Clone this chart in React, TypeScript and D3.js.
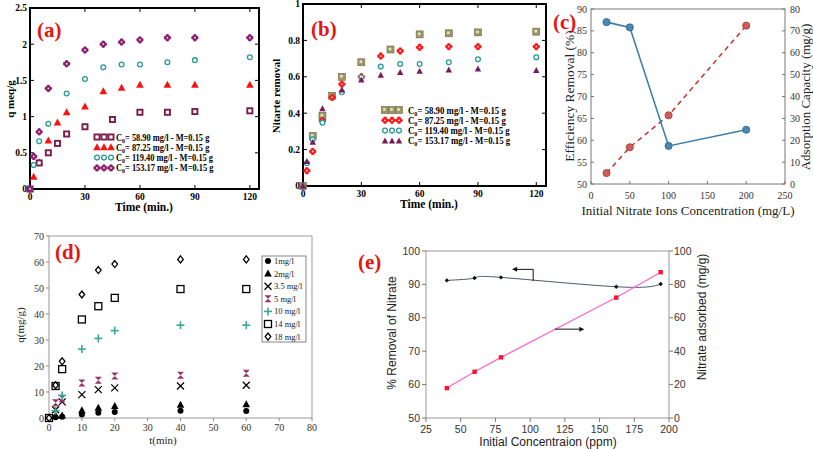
import React from 'react';
import * as d3 from 'd3';

const SERIF = '"Liberation Serif", "DejaVu Serif", serif';
const SANS = '"Liberation Sans", Arial, sans-serif';

// ---------- Panel (a): q (meq/g) vs time ----------
const aTimeS1 = [0, 5, 10, 15, 20, 30, 45, 60, 75, 90, 120];
const aTimeS2 = [0, 2, 5, 10, 15, 20, 30, 40, 50, 60, 75, 90, 120];
const aTimeS34 = [0, 2, 5, 10, 20, 30, 40, 50, 60, 75, 90, 120];
const aQ1 = [0, 0.36, 0.5, 0.63, 0.76, 0.86, 0.96, 1.06, 1.06, 1.07, 1.08];
const aQ2 = [0, 0.17, 0.37, 0.67, 0.92, 1.06, 1.14, 1.35, 1.4, 1.44, 1.44, 1.44, 1.44];
const aQ3 = [0, 0.33, 0.66, 0.9, 1.32, 1.52, 1.68, 1.72, 1.72, 1.75, 1.78, 1.82];
const aQ4 = [0, 0.45, 0.79, 1.39, 1.73, 1.92, 2.0, 2.03, 2.06, 2.09, 2.09, 2.09];
const abLegend = ['58.90', '87.25', '119.40', '153.17'];
const aYTicks = [0, 0.5, 1, 1.5, 2, 2.5];
const abXTicks = [0, 30, 60, 90, 120];

// ---------- Panel (b): nitrate removal vs time ----------
const bR1 = [0, 0.275, 0.386, 0.496, 0.6, 0.68, 0.75, 0.833, 0.839, 0.844, 0.848];
const bR2 = [0, 0.084, 0.19, 0.36, 0.487, 0.56, 0.6, 0.714, 0.742, 0.762, 0.766, 0.766, 0.766];
const bR3 = [0, 0.125, 0.256, 0.348, 0.515, 0.597, 0.656, 0.67, 0.67, 0.68, 0.696, 0.707];
const bR4 = [0, 0.135, 0.24, 0.425, 0.527, 0.582, 0.608, 0.623, 0.63, 0.637, 0.643, 0.634];
const bYTicks = [0, 0.2, 0.4, 0.6, 0.8, 1];

// ---------- Panel (c) ----------
const cConc = [20, 50, 100, 200];
const cEfficiency = [87.0, 85.8, 58.7, 62.4];
const cCapacity = [5.0, 16.8, 31.4, 72.4];
const cXTicks = [0, 50, 100, 150, 200, 250];
const cYLTicks = [50, 55, 60, 65, 70, 75, 80, 85, 90];
const cYRTicks = [0, 10, 20, 30, 40, 50, 60, 70, 80];

// ---------- Panel (d) ----------
const dTime = [0, 2, 4, 10, 15, 20, 40, 60];
const d1 = [0, 0.3, 0.5, 1.3, 2.0, 2.3, 2.8, 2.7];
const d2 = [0, 1.0, 1.0, 3.0, 3.9, 4.6, 5.1, 5.3];
const d35 = [0, 3.2, 6.2, 9.0, 10.9, 11.6, 12.3, 12.6];
const d5 = [0, 5.9, 7.4, 13.5, 14.5, 16.2, 16.4, 17.2];
const d10 = [0, 2.8, 8.7, 26.5, 30.6, 33.6, 35.7, 35.7];
const d14 = [0, 12.3, 18.8, 37.9, 43.0, 46.2, 49.6, 49.6];
const d18 = [0, 12.6, 21.8, 47.5, 56.9, 59.2, 61.0, 61.0];
const dLegend = ['1mg/l', '2mg/l', '3.5 mg/l', '5 mg/l', '10 mg/l', '14 mg/l', '18 mg/l'];
const dXTicks = [0, 10, 20, 30, 40, 50, 60, 70, 80];
const dYTicks = [0, 10, 20, 30, 40, 50, 60, 70];

// ---------- Panel (e) ----------
const eConc = [40, 60, 79, 162, 194];
const eRemoval = [91.2, 91.9, 92.1, 89.3, 90.1];
const eAdsorbed = [17.9, 27.7, 36.3, 72.1, 87.3];
const eXTicks = [25, 50, 75, 100, 125, 150, 175, 200];
const eYLTicks = [50, 60, 70, 80, 90, 100];
const eYRTicks = [0, 20, 40, 60, 80, 100];

type MkProps = { t: string; x: number; y: number; c: string };
function Mk({ t, x, y, c }: MkProps) {
  switch (t) {
    case 'sqW':
      return (
        <g>
          <rect x={x - 3.5} y={y - 3.5} width={7} height={7} fill={c} />
          <rect x={x - 1.6} y={y - 1.6} width={3.2} height={3.2} fill="#fff" />
        </g>
      );
    case 'sqOlive':
      return (
        <g>
          <rect x={x - 3.5} y={y - 3.5} width={7} height={7} fill="#9c9565" stroke="#6e6a45" strokeWidth={0.6} />
          <rect x={x - 1.8} y={y - 1.8} width={2.6} height={2.6} fill="#e8e4c8" />
        </g>
      );
    case 'tri':
      return <path d={`M${x},${y - 4}L${x + 3.8},${y + 3}L${x - 3.8},${y + 3}Z`} fill={c} />;
    case 'triS':
      return <path d={`M${x},${y - 3.5}L${x + 3.2},${y + 2.5}L${x - 3.2},${y + 2.5}Z`} fill={c} />;
    case 'circO':
      return <circle cx={x} cy={y} r={2.4} fill="#fff" stroke={c} strokeWidth={1.3} />;
    case 'flower':
      return (
        <g fill={c}>
          <circle cx={x - 1.8} cy={y} r={1.9} />
          <circle cx={x + 1.8} cy={y} r={1.9} />
          <circle cx={x} cy={y - 1.8} r={1.9} />
          <circle cx={x} cy={y + 1.8} r={1.9} />
          <circle cx={x} cy={y} r={0.9} fill="#fbe0f0" />
        </g>
      );
    case 'dot':
      return <circle cx={x} cy={y} r={3} fill={c} />;
    case 'x':
      return (
        <g stroke={c} strokeWidth={1.3}>
          <line x1={x - 3.5} y1={y - 3.5} x2={x + 3.5} y2={y + 3.5} />
          <line x1={x - 3.5} y1={y + 3.5} x2={x + 3.5} y2={y - 3.5} />
        </g>
      );
    case 'bowtie':
      return <path d={`M${x - 3.5},${y - 3.5}L${x + 3.5},${y - 3.5}L${x - 3.5},${y + 3.5}L${x + 3.5},${y + 3.5}Z`} fill={c} />;
    case 'plus':
      return (
        <g stroke={c} strokeWidth={1.6}>
          <line x1={x - 4} y1={y} x2={x + 4} y2={y} />
          <line x1={x} y1={y - 4} x2={x} y2={y + 4} />
        </g>
      );
    case 'sqO':
      return <rect x={x - 3.5} y={y - 3.5} width={7} height={7} fill="#fff" stroke={c} strokeWidth={1.3} />;
    case 'diaO':
      return <path d={`M${x},${y - 3.5}L${x + 2.8},${y}L${x},${y + 3.5}L${x - 2.8},${y}Z`} fill="#fff" stroke={c} strokeWidth={1.3} />;
    case 'circF':
      return <circle cx={x} cy={y} r={3.6} fill={c} stroke="#2c6690" strokeWidth={0.8} />;
    case 'circR':
      return <circle cx={x} cy={y} r={3.6} fill={c} stroke="#a33b3b" strokeWidth={0.8} />;
    case 'sqR':
      return <rect x={x - 2.2} y={y - 2.2} width={4.4} height={4.4} fill={c} />;
    case 'smk':
      return <path d={`M${x},${y - 2.2}L${x + 2.2},${y}L${x},${y + 2.2}L${x - 2.2},${y}Z`} fill={c} />;
    default:
      return null;
  }
}

function C0Label({ x, y, conc, size, sx }: { x: number; y: number; conc: string; size: number; sx: number }) {
  return (
    <g transform={`translate(${x},${y}) scale(${sx},1)`}>
      <text x={0} y={0} dy="0.35em" fontFamily={SERIF} fontWeight="bold" fontSize={size} fill="#000">
        C<tspan fontSize={size * 0.7} dy={2}>0</tspan>
        <tspan dy={-2}>{`= ${conc} mg/l - M=0.15 g`}</tspan>
      </text>
    </g>
  );
}

function PanelLabel({ x, y, s }: { x: number; y: number; s: string }) {
  return (
    <text x={x} y={y} dy="0.35em" fontFamily={SERIF} fontWeight="bold" fontSize={21} fill="#e8140f">
      {s}
    </text>
  );
}

function PanelA() {
  const x = d3.scaleLinear().domain([0, 125]).range([30, 259]);
  const y = d3.scaleLinear().domain([0, 2.5]).range([189, 8]);
  const series = [
    { t: aTimeS2, v: aQ2, m: 'tri', c: '#ff1010' },
    { t: aTimeS1, v: aQ1, m: 'sqW', c: '#7a1c4c' },
    { t: aTimeS34, v: aQ3, m: 'circO', c: '#2a9a94' },
    { t: aTimeS34, v: aQ4, m: 'flower', c: '#8a2070' },
  ];
  const legendOrder = [1, 0, 2, 3];
  return (
    <g>
      {aYTicks.map((v) => (
        <g key={'y' + v}>
          <line x1={x(0)} x2={x(0) + 4} y1={y(v)} y2={y(v)} stroke="#000" />
          <line x1={x(125)} x2={x(125) - 4} y1={y(v)} y2={y(v)} stroke="#000" />
          <text x={x(0) - 3} y={y(v)} dy="0.35em" textAnchor="end" fontFamily={SERIF} fontWeight="bold" fontSize={9.5}>
            {v}
          </text>
        </g>
      ))}
      {abXTicks.map((v) => (
        <g key={'x' + v}>
          <line x1={x(v)} x2={x(v)} y1={y(0)} y2={y(0) - 4} stroke="#000" />
          <line x1={x(v)} x2={x(v)} y1={y(2.5)} y2={y(2.5) + 4} stroke="#000" />
          <text x={x(v)} y={y(0) + 11} textAnchor="middle" fontFamily={SERIF} fontWeight="bold" fontSize={9.5}>
            {v}
          </text>
        </g>
      ))}
      <rect x={x(0)} y={y(2.5)} width={x(125) - x(0)} height={y(0) - y(2.5)} fill="none" stroke="#000" strokeWidth={2} />
      {series.map((s, i) =>
        s.v.map((v, j) => <Mk key={i + '-' + j} t={s.m} x={x(s.t[j])} y={y(v)} c={s.c} />)
      )}
      {legendOrder.map((si, i) => {
        const s = series[si];
        const ly = 137 + i * 10.3;
        return (
          <g key={'lg' + i}>
            {[97, 104, 111].map((mx) => (
              <Mk key={mx} t={s.m} x={mx} y={ly} c={s.c} />
            ))}
            <C0Label x={116} y={ly} conc={abLegend[i]} size={10} sx={0.84} />
          </g>
        );
      })}
      <text x={144} y={211} textAnchor="middle" fontFamily={SERIF} fontWeight="bold" fontSize={11.5}>
        Time (min.)
      </text>
      <text transform="translate(14,99) rotate(-90)" textAnchor="middle" fontFamily={SERIF} fontWeight="bold" fontSize={11}>
        q meq/g
      </text>
      <PanelLabel x={37} y={30} s="(a)" />
    </g>
  );
}

function PanelB() {
  const x = d3.scaleLinear().domain([0, 125]).range([303, 546]);
  const y = d3.scaleLinear().domain([0, 1]).range([186, 4]);
  const series = [
    { t: aTimeS1, v: bR1, m: 'sqOlive', c: '#9c9565' },
    { t: aTimeS2, v: bR2, m: 'flower', c: '#ff1a1a' },
    { t: aTimeS34, v: bR3, m: 'circO', c: '#2a9a94' },
    { t: aTimeS34, v: bR4, m: 'triS', c: '#7a1a5c' },
  ];
  return (
    <g>
      {bYTicks.map((v) => (
        <g key={'y' + v}>
          <line x1={x(0)} x2={x(0) + 4} y1={y(v)} y2={y(v)} stroke="#000" />
          <line x1={x(125)} x2={x(125) - 4} y1={y(v)} y2={y(v)} stroke="#000" />
          <text x={x(0) - 3} y={y(v)} dy="0.35em" textAnchor="end" fontFamily={SERIF} fontWeight="bold" fontSize={9.5}>
            {v}
          </text>
        </g>
      ))}
      {abXTicks.map((v) => (
        <g key={'x' + v}>
          <line x1={x(v)} x2={x(v)} y1={y(0)} y2={y(0) - 4} stroke="#000" />
          <line x1={x(v)} x2={x(v)} y1={y(1)} y2={y(1) + 4} stroke="#000" />
          <text x={x(v)} y={y(0) + 11} textAnchor="middle" fontFamily={SERIF} fontWeight="bold" fontSize={9.5}>
            {v}
          </text>
        </g>
      ))}
      <rect x={x(0)} y={y(1)} width={x(125) - x(0)} height={y(0) - y(1)} fill="none" stroke="#000" strokeWidth={2} />
      {series.map((s, i) =>
        s.v.map((v, j) => <Mk key={i + '-' + j} t={s.m} x={x(s.t[j])} y={y(v)} c={s.c} />)
      )}
      {series.map((s, i) => {
        const ly = 110 + i * 10.3;
        return (
          <g key={'lg' + i}>
            {[385, 392, 399].map((mx) => (
              <Mk key={mx} t={s.m} x={mx} y={ly} c={s.c} />
            ))}
            <C0Label x={408} y={ly} conc={abLegend[i]} size={10} sx={0.88} />
          </g>
        );
      })}
      <text x={429} y={208} textAnchor="middle" fontFamily={SERIF} fontWeight="bold" fontSize={11.5}>
        Time (min.)
      </text>
      <text transform="translate(280,96) rotate(-90)" textAnchor="middle" fontFamily={SERIF} fontWeight="bold" fontSize={11}>
        Nitarte removal
      </text>
      <PanelLabel x={311} y={29} s="(b)" />
    </g>
  );
}

function PanelC() {
  const x = d3.scaleLinear().domain([0, 250]).range([591, 785]);
  const yL = d3.scaleLinear().domain([50, 90]).range([184, 9]);
  const yR = d3.scaleLinear().domain([0, 80]).range([184, 9]);
  const effLine = d3
    .line<number>()
    .x((_, i) => x(cConc[i]))
    .y((d) => yL(d));
  const capLine = d3
    .line<number>()
    .x((_, i) => x(cConc[i]))
    .y((d) => yR(d));
  return (
    <g>
      <rect x={x(0)} y={yL(90)} width={x(250) - x(0)} height={yL(50) - yL(90)} fill="none" stroke="#777" strokeWidth={1} />
      {cYLTicks.map((v) => (
        <g key={'l' + v}>
          <line x1={x(0)} x2={x(0) + 3} y1={yL(v)} y2={yL(v)} stroke="#777" />
          <text x={x(0) - 4} y={yL(v)} dy="0.35em" textAnchor="end" fontFamily={SERIF} fontSize={10} fill="#333">
            {v}
          </text>
        </g>
      ))}
      {cYRTicks.map((v) => (
        <g key={'r' + v}>
          <line x1={x(250)} x2={x(250) - 3} y1={yR(v)} y2={yR(v)} stroke="#777" />
          <text x={x(250) + 5} y={yR(v)} dy="0.35em" textAnchor="start" fontFamily={SERIF} fontSize={10} fill="#333">
            {v}
          </text>
        </g>
      ))}
      {cXTicks.map((v) => (
        <g key={'x' + v}>
          <line x1={x(v)} x2={x(v)} y1={yL(50)} y2={yL(50) - 3} stroke="#777" />
          <text x={x(v)} y={yL(50) + 15} textAnchor="middle" fontFamily={SERIF} fontSize={10} fill="#333">
            {v}
          </text>
        </g>
      ))}
      <path d={capLine(cCapacity) || ''} fill="none" stroke="#c9302c" strokeWidth={1.5} strokeDasharray="5,4" />
      <path d={effLine(cEfficiency) || ''} fill="none" stroke="#3b7ea8" strokeWidth={1.6} />
      {cCapacity.map((v, i) => (
        <Mk key={'c' + i} t="circR" x={x(cConc[i])} y={yR(v)} c="#cf5c5c" />
      ))}
      {cEfficiency.map((v, i) => (
        <Mk key={'e' + i} t="circF" x={x(cConc[i])} y={yL(v)} c="#4b87b3" />
      ))}
      <text x={688} y={215} textAnchor="middle" fontFamily={SERIF} fontSize={13} fill="#222">
        Initial Nitrate Ions Concentration (mg/L)
      </text>
      <text transform="translate(574,96) rotate(-90)" textAnchor="middle" fontFamily={SERIF} fontSize={13.5} fill="#222">
        Efficiency  Removal (%)
      </text>
      <text transform="translate(810,97) rotate(-90)" textAnchor="middle" fontFamily={SERIF} fontSize={13} fill="#222">
        Adsorption Capacity (mg/g)
      </text>
      <PanelLabel x={553} y={22} s="(c)" />
    </g>
  );
}

function PanelD() {
  const x = d3.scaleLinear().domain([0, 80]).range([49, 312]);
  const y = d3.scaleLinear().domain([0, 70]).range([418, 236]);
  const series = [
    { v: d1, m: 'dot', c: '#000' },
    { v: d2, m: 'tri', c: '#000' },
    { v: d35, m: 'x', c: '#000' },
    { v: d5, m: 'bowtie', c: '#993366' },
    { v: d10, m: 'plus', c: '#3aa79a' },
    { v: d14, m: 'sqO', c: '#000' },
    { v: d18, m: 'diaO', c: '#000' },
  ];
  return (
    <g>
      <rect x={x(0)} y={y(70)} width={x(80) - x(0)} height={y(0) - y(70)} fill="none" stroke="#999" strokeWidth={1} />
      {dYTicks.map((v) => (
        <g key={'y' + v}>
          <line x1={x(0) - 3} x2={x(0)} y1={y(v)} y2={y(v)} stroke="#888" />
          <text x={x(0) - 5} y={y(v)} dy="0.35em" textAnchor="end" fontFamily={SERIF} fontSize={10} fill="#333">
            {v}
          </text>
        </g>
      ))}
      {dXTicks.map((v) => (
        <g key={'x' + v}>
          <line x1={x(v)} x2={x(v)} y1={y(0)} y2={y(0) + 3} stroke="#888" />
          <text x={x(v)} y={y(0) + 13} textAnchor="middle" fontFamily={SERIF} fontSize={10} fill="#333">
            {v}
          </text>
        </g>
      ))}
      {series.map((s, i) => s.v.map((v, j) => <Mk key={i + '-' + j} t={s.m} x={x(dTime[j])} y={y(v)} c={s.c} />))}
      <rect x={262} y={256} width={44} height={86} fill="#fff" stroke="#666" strokeWidth={0.8} />
      {series.map((s, i) => {
        const ly = 261 + i * 12.6;
        return (
          <g key={'lg' + i}>
            <Mk t={s.m} x={268} y={ly} c={s.c} />
            <text x={274} y={ly} dy="0.35em" fontFamily={SERIF} fontSize={8.5} fill="#222">
              {dLegend[i]}
            </text>
          </g>
        );
      })}
      <text x={163} y={444} textAnchor="middle" fontFamily={SERIF} fontSize={11} fill="#222">
        t(min)
      </text>
      <text transform="translate(24,325) rotate(-90)" textAnchor="middle" fontFamily={SERIF} fontSize={11} fill="#222">
        q(mg/g)
      </text>
      <PanelLabel x={55} y={252} s="(d)" />
    </g>
  );
}

function PanelE() {
  const x = d3.scaleLinear().domain([25, 200]).range([426, 669]);
  const yL = d3.scaleLinear().domain([50, 100]).range([418, 251]);
  const yR = d3.scaleLinear().domain([0, 100]).range([418, 251]);
  const remLine = d3
    .line<number>()
    .x((_, i) => x(eConc[i]))
    .y((d) => yL(d))
    .curve(d3.curveNatural);
  const adsLine = d3
    .line<number>()
    .x((_, i) => x(eConc[i]))
    .y((d) => yR(d));
  const ax1 = x(102.2);
  const ax2 = x(87);
  const ay1 = yL(91.0);
  const ay2 = yL(94.5);
  const bx1 = x(117.8);
  const bx2 = x(139);
  const by = yR(53.2);
  return (
    <g>
      <rect x={x(25)} y={yL(100)} width={x(200) - x(25)} height={yL(50) - yL(100)} fill="none" stroke="#999" strokeWidth={1} />
      {eYLTicks.map((v) => (
        <g key={'l' + v}>
          <line x1={x(25) - 4} x2={x(25)} y1={yL(v)} y2={yL(v)} stroke="#777" />
          <text x={x(25) - 6} y={yL(v)} dy="0.35em" textAnchor="end" fontFamily={SANS} fontSize={10.5} fill="#333">
            {v}
          </text>
        </g>
      ))}
      {eYRTicks.map((v) => (
        <g key={'r' + v}>
          <line x1={x(200)} x2={x(200) + 4} y1={yR(v)} y2={yR(v)} stroke="#777" />
          <text x={x(200) + 5} y={yR(v)} dy="0.35em" textAnchor="start" fontFamily={SANS} fontSize={10.5} fill="#333">
            {v}
          </text>
        </g>
      ))}
      {eXTicks.map((v) => (
        <g key={'x' + v}>
          <line x1={x(v)} x2={x(v)} y1={yL(50)} y2={yL(50) + 4} stroke="#777" />
          <text x={x(v)} y={yL(50) + 15} textAnchor="middle" fontFamily={SANS} fontSize={10.5} fill="#333">
            {v}
          </text>
        </g>
      ))}
      <path d={remLine(eRemoval) || ''} fill="none" stroke="#4d5566" strokeWidth={1} />
      <path d={adsLine(eAdsorbed) || ''} fill="none" stroke="#ff66cc" strokeWidth={1.2} />
      {eRemoval.map((v, i) => (
        <Mk key={'r' + i} t="smk" x={x(eConc[i])} y={yL(v)} c="#111" />
      ))}
      {eAdsorbed.map((v, i) => (
        <Mk key={'a' + i} t="sqR" x={x(eConc[i])} y={yR(v)} c="#ff1030" />
      ))}
      <g stroke="#111" strokeWidth={1} fill="none">
        <path d={`M${ax1},${ay1}L${ax1},${ay2}L${ax2 + 4},${ay2}`} />
        <path d={`M${bx1},${by}L${bx2 - 4},${by}`} />
      </g>
      <path d={`M${ax2},${ay2}L${ax2 + 5},${ay2 - 2.5}L${ax2 + 5},${ay2 + 2.5}Z`} fill="#111" />
      <path d={`M${bx2},${by}L${bx2 - 5},${by - 2.5}L${bx2 - 5},${by + 2.5}Z`} fill="#111" />
      <text x={548} y={446} textAnchor="middle" fontFamily={SANS} fontSize={12} fill="#222">
        Initial Concentraion (ppm)
      </text>
      <text transform="translate(396,333) rotate(-90)" textAnchor="middle" fontFamily={SANS} fontSize={12} fill="#222">
        % Removal of Nitrate
      </text>
      <text transform="translate(706,317) rotate(-90)" textAnchor="middle" fontFamily={SANS} fontSize={12} fill="#222">
        Nitrate adsorbed (mg/g)
      </text>
      <PanelLabel x={358} y={262} s="(e)" />
    </g>
  );
}

export default function App() {
  return (
    <svg
      width={813}
      height={449}
      viewBox="0 0 813 449"
      style={{ position: 'absolute', left: 0, top: 0, background: '#fff' }}
    >
      <rect x={0} y={0} width={813} height={449} fill="#fff" />
      <PanelA />
      <PanelB />
      <PanelC />
      <PanelD />
      <PanelE />
    </svg>
  );
}
